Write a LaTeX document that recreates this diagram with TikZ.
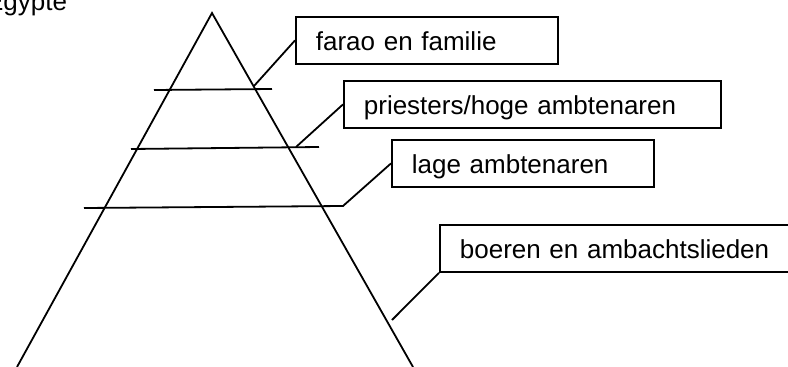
\documentclass[tikz,border=0pt]{standalone}
\usepackage{fontspec}
\setmainfont{Liberation Sans}
\begin{document}
\begin{tikzpicture}[x=1pt,y=-1pt,line width=1.8pt,
  labelbox/.style={draw, anchor=north west, inner xsep=20pt, inner ysep=0pt,
    text height=34pt, text depth=13pt, align=left,
    font=\fontsize{26}{30}\selectfont}]
\useasboundingbox (0,0) rectangle (788,367);

\node[anchor=base east, inner sep=0pt, font=\fontsize{26}{30}\selectfont] (title) at (68,10) {Egypte};

% piramide
\coordinate (top) at (212,13);
\coordinate (left) at (17,367);
\coordinate (right) at (413,367);
\draw (left) -- (top) -- (right);

\draw (154,90) -- (272,89);
\draw (131,149) -- (319,147);

% lagen
\node[labelbox, text width=222pt] (farao) at (295,16) {farao en familie};
\node[labelbox, text width=337pt] (priesters) at (343,80) {priesters/hoge ambtenaren};
\node[labelbox, text width=222pt] (lage) at (391,139) {lage ambtenaren};
\node[labelbox, text width=330pt] (boeren) at (439,224) {boeren en ambachtslieden};

\coordinate (p1) at (254,86);
\coordinate (p2) at (296,147);
\coordinate (p3) at (343,206);
\coordinate (p4) at (392,320);

\draw (p1) -- (farao.west);
\draw (p2) -- (priesters.west);
\draw (84,208) -- (p3) -- (lage.west);
\draw (p4) -- (boeren.south west);
\end{tikzpicture}
\end{document}
